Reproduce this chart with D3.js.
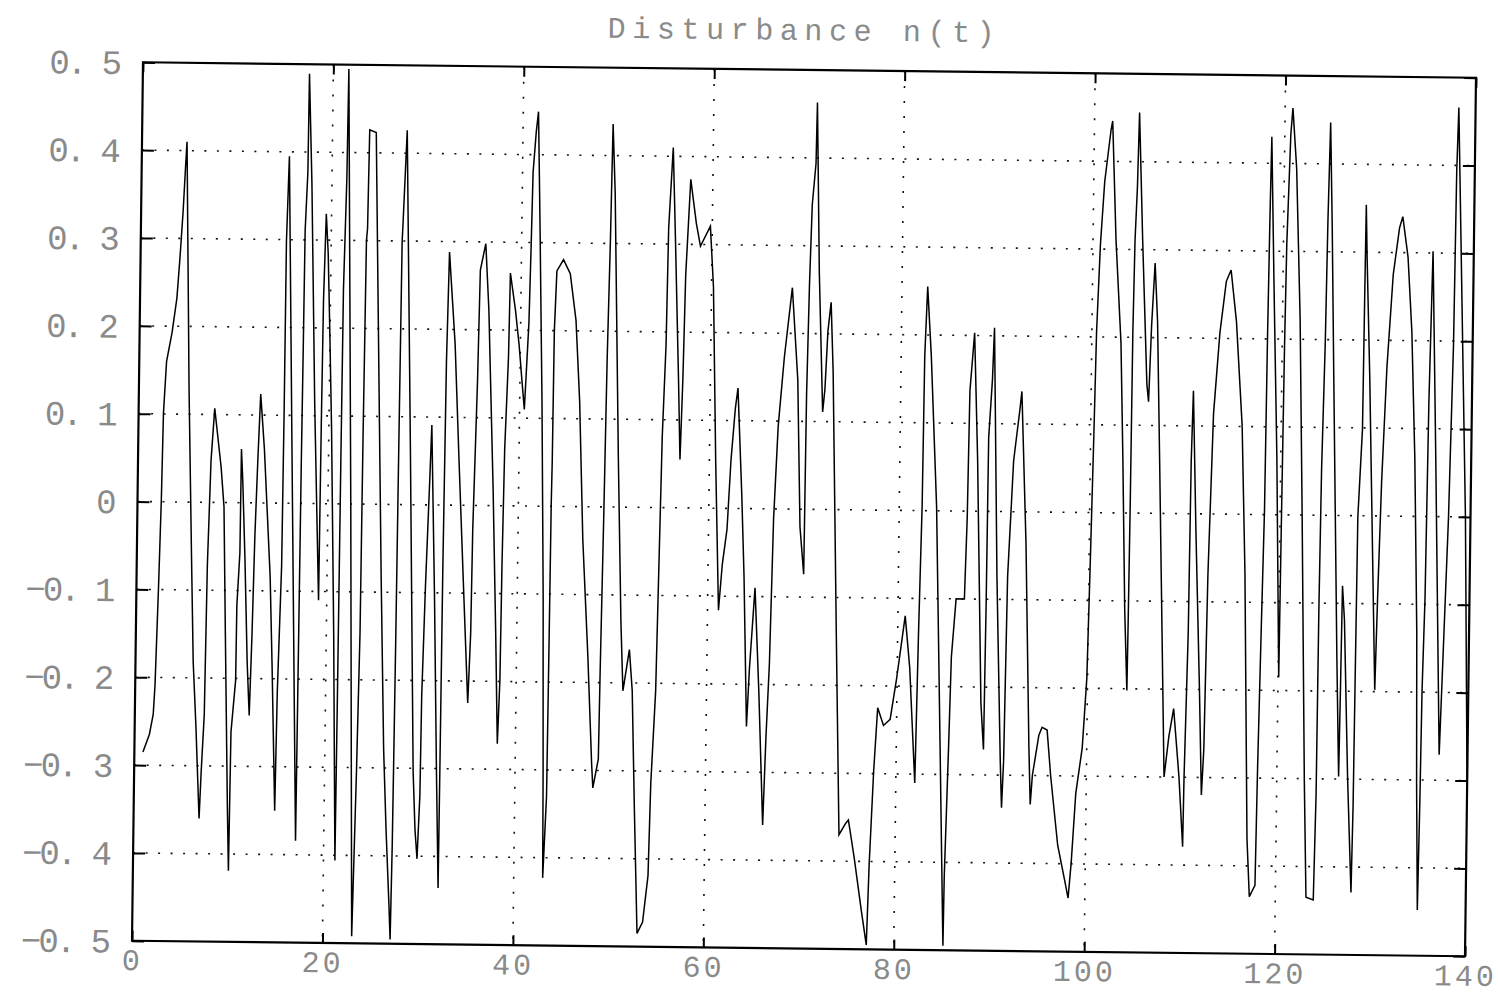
<!DOCTYPE html>
<html>
<head>
<meta charset="utf-8">
<script src="https://cdn.jsdelivr.net/npm/d3@7"></script>
<style>
  html, body { margin: 0; padding: 0; background: #fff; }
  svg { display: block; }
  .lbl text { font-family: "Liberation Mono", "DejaVu Sans Mono", monospace; fill: #8a8a8a; }
</style>
</head>
<body>
<svg id="chart" width="1498" height="994"></svg>
<script>
// Sample times (s) of the disturbance record
const time = [
  0.9,1.55,1.93,2.08,2.32,2.5,2.61,2.87,3.41,3.87,4.14,4.41,4.6,4.73,5.27,5.75,6.06,6.43,6.88,7.04,
  7.29,7.42,7.67,7.99,8.73,9.09,9.4,9.84,10.03,10.12,10.54,10.57,10.82,10.85,11.04,11.36,11.73,12.01,12.2,12.37,
  12.58,12.8,13.26,14.03,14.36,14.81,14.93,15.22,15.28,15.3,15.5,16.18,17.04,17.1,17.15,17.2,17.25,17.46,17.5,17.9,
  18.48,19.14,19.2,19.27,19.45,19.7,19.96,20.28,20.78,21.2,21.25,21.3,21.35,21.56,21.63,22.4,23.06,23.35,23.54,23.6,
  23.7,23.8,23.9,24.59,25.05,25.68,26.17,26.53,26.93,27.1,27.2,27.25,27.3,27.37,27.45,27.5,27.84,28.6,29.3,29.57,
  29.82,30.04,30.1,30.35,30.67,30.81,31.32,31.75,32.07,32.1,32.15,32.26,32.44,33.15,33.71,34.38,34.94,35.16,35.24,35.55,
  35.7,36.24,36.65,37.33,37.79,38.1,38.29,38.36,38.49,38.77,38.86,39.45,39.87,40.21,40.5,40.87,41.0,41.11,41.39,41.6,
  41.92,42.35,42.72,42.95,43.04,43.34,43.4,43.45,43.5,43.55,43.74,44.42,45.15,45.81,46.3,46.81,47.49,48.04,48.19,48.73,
  48.8,48.98,49.13,49.32,49.45,49.76,50.44,50.92,51.22,51.85,52.2,52.57,53.02,53.59,54.1,54.27,54.66,54.84,55.02,55.3,
  55.42,55.8,56.15,56.65,56.91,57.11,57.27,57.68,58.32,58.78,59.8,60.2,60.66,61.15,61.49,61.94,62.27,62.66,62.91,63.45,
  63.79,64.24,64.48,64.96,65.5,66.07,66.3,66.57,66.82,67.18,67.74,68.49,69.18,69.6,70.05,70.12,70.28,70.47,70.81,70.88,
  71.3,71.83,72.04,72.28,72.58,72.88,73.55,74.1,74.78,75.07,75.73,76.53,77.11,77.31,77.66,78.0,78.63,79.32,79.94,80.55,
  80.77,81.31,81.99,82.19,82.4,82.48,82.7,83.17,83.92,84.64,85.16,85.21,85.49,85.67,86.09,86.96,87.15,87.27,87.69,88.17,
  88.83,89.16,89.25,89.3,89.62,89.77,90.35,90.94,91.13,91.29,91.47,91.95,92.55,92.73,93.36,93.93,94.14,94.33,94.96,95.29,
  95.82,96.25,97.08,97.86,98.24,98.52,98.91,99.53,99.92,100.13,100.34,100.49,100.78,101.15,101.75,101.91,102.41,103.07,103.42,103.81,
  104.14,104.19,104.25,104.3,104.41,104.59,104.72,105.21,105.84,106.04,106.26,106.55,106.88,107.28,107.6,108.16,108.61,109.08,109.73,110.2,
  110.26,110.51,110.6,110.74,111.18,111.77,112.1,112.3,112.5,112.88,113.44,114.05,114.54,115.17,115.9,116.39,116.95,117.27,117.85,117.97,
  118.17,118.36,118.45,118.55,118.64,119.06,119.59,120.07,120.15,120.25,120.35,120.63,120.82,121.29,121.85,122.32,122.9,123.22,123.99,124.15,
  124.2,124.3,124.52,124.64,124.8,125.1,125.46,126.16,126.49,126.57,126.65,126.9,127.43,127.94,128.05,128.1,128.17,128.54,128.6,128.65,
  128.8,129.24,129.62,130.17,130.35,130.62,131.03,131.57,132.17,132.5,133.1,133.6,134.08,134.51,134.69,134.93,135.05,135.14,135.33,135.48,
  135.72,136.28,137.02,137.33,137.69,137.99,138.1,138.24,139.47,140
];

// Disturbance n(t) at each sample time
const disturbance = [
  -0.285,-0.265,-0.242,-0.209,-0.097,0.002,0.101,0.16,0.193,0.232,0.278,0.331,0.38,0.41,0.127,-0.064,-0.182,-0.255,-0.36,-0.307,
  -0.242,-0.071,0.048,0.107,0.041,-0.005,-0.149,-0.347,-0.419,-0.261,-0.202,-0.117,-0.057,0.061,0.022,-0.064,-0.182,-0.242,-0.149,-0.038,
  0.048,0.124,0.061,-0.084,-0.189,-0.35,-0.215,-0.071,0.107,0.298,0.395,0.048,-0.384,-0.149,0.048,0.166,0.311,0.377,0.489,0.364,
  0.114,-0.11,0.094,0.232,0.33,0.285,0.2,0.087,-0.15,-0.406,-0.215,0.048,0.245,0.37,0.495,0.0,-0.492,-0.304,-0.146,0.077,
  0.3,0.314,0.426,0.423,0.209,-0.08,-0.278,-0.37,-0.455,-0.495,-0.39,-0.278,-0.153,0.078,0.3,0.314,0.426,0.058,-0.304,-0.37,
  -0.403,-0.33,-0.218,-0.093,0.032,0.091,-0.107,-0.304,-0.436,-0.317,-0.074,0.163,0.288,0.183,0.051,-0.1,-0.225,-0.146,-0.028,0.143,
  0.268,0.298,0.222,0.018,-0.146,-0.271,-0.199,-0.067,0.064,0.17,0.265,0.222,0.183,0.143,0.11,0.209,0.295,0.38,0.426,0.449,
  0.314,0.117,-0.1,-0.304,-0.423,-0.33,-0.166,0.005,0.051,0.2,0.268,0.281,0.265,0.212,0.12,-0.037,-0.169,-0.294,-0.32,-0.287,
  -0.195,-0.011,0.166,0.305,0.436,0.357,0.055,-0.13,-0.209,-0.162,-0.209,-0.34,-0.485,-0.472,-0.419,-0.314,-0.209,-0.064,0.081,0.186,
  0.318,0.41,0.305,0.147,0.055,0.147,0.265,0.374,0.324,0.298,0.321,0.252,0.055,-0.116,-0.064,-0.024,0.055,0.114,0.137,0.015,
  -0.077,-0.248,-0.182,-0.09,-0.209,-0.36,-0.261,-0.176,-0.011,0.094,0.173,0.252,0.147,-0.02,-0.074,0.13,0.255,0.347,0.394,0.463,
  0.269,0.111,0.137,0.203,0.236,0.157,-0.139,-0.37,-0.357,-0.353,-0.396,-0.455,-0.495,-0.403,-0.297,-0.225,-0.245,-0.238,-0.192,-0.139,
  -0.12,-0.179,-0.31,-0.139,0.005,0.176,0.255,0.176,0.005,-0.284,-0.495,-0.416,-0.271,-0.166,-0.1,-0.1,-0.008,0.137,0.203,0.058,
  -0.218,-0.271,-0.106,0.084,0.15,0.209,-0.074,-0.284,-0.337,-0.284,-0.074,0.058,0.117,0.137,-0.037,-0.268,-0.333,-0.3,-0.254,-0.245,
  -0.248,-0.3,-0.379,-0.419,-0.439,-0.399,-0.32,-0.268,-0.189,-0.057,0.088,0.206,0.305,0.377,0.436,0.446,0.311,0.193,0.061,-0.11,
  -0.202,-0.123,0.009,0.206,0.311,0.371,0.456,0.311,0.147,0.127,0.213,0.285,0.219,0.061,-0.07,-0.3,-0.254,-0.222,-0.3,-0.379,
  -0.3,-0.136,0.061,0.14,-0.018,-0.202,-0.32,-0.268,-0.07,0.114,0.206,0.265,0.278,0.219,0.101,-0.067,-0.369,-0.435,-0.422,-0.29,
  -0.132,0.006,0.203,0.341,0.43,0.262,0.065,-0.185,-0.001,0.196,0.308,0.433,0.463,0.394,0.223,-0.001,-0.304,-0.435,-0.438,-0.317,
  -0.106,0.052,0.196,0.335,0.447,0.328,0.157,-0.165,-0.297,-0.198,-0.08,-0.119,-0.297,-0.429,-0.33,-0.185,-0.001,0.098,0.249,0.354,
  0.295,0.157,0.012,-0.198,-0.093,0.039,0.17,0.275,0.328,0.341,0.295,0.21,0.065,-0.132,-0.304,-0.448,-0.33,-0.198,-0.093,0.131,
  0.302,0.065,-0.271,-0.146,-0.001,0.196,0.394,0.466,-0.001,-0.31
];

const xTicks = [0, 20, 40, 60, 80, 100, 120, 140];
const xTickLabels = ["0", "20", "40", "60", "80", "100", "120", "140"];
const yTicks = [0.5, 0.4, 0.3, 0.2, 0.1, 0, -0.1, -0.2, -0.3, -0.4, -0.5];
const yTickLabels = ["0. 5", "0. 4", "0. 3", "0. 2", "0. 1", "0", "\u22120. 1", "\u22120. 2", "\u22120. 3", "\u22120. 4", "\u22120. 5"];
const chartTitle = "Disturbance n(t)";

// Plot frame size; the whole axes group sits slightly tilted on the page
const W = 1333, H = 878.5;
const svg = d3.select("#chart");
const g = svg.append("g")
  .attr("transform", "matrix(1,0.01163,-0.01252,1,143,62.25)");

const x = d3.scaleLinear().domain([0, 140]).range([0, W]);
const y = d3.scaleLinear().domain([-0.5, 0.5]).range([H, 0]);

// Dotted grid
g.append("g").selectAll("line")
  .data(xTicks.filter(d => d > 0 && d < 140))
  .join("line")
  .attr("x1", d => x(d)).attr("x2", d => x(d))
  .attr("y1", 0).attr("y2", H)
  .attr("stroke", "#111").attr("stroke-width", 1.6)
  .attr("stroke-dasharray", "2,13");

g.append("g").selectAll("line")
  .data(yTicks.filter(d => d > -0.5 && d < 0.5))
  .join("line")
  .attr("x1", 0).attr("x2", W)
  .attr("y1", d => y(d)).attr("y2", d => y(d))
  .attr("stroke", "#111").attr("stroke-width", 1.6)
  .attr("stroke-dasharray", "2,10.5");

// Axes with inward ticks on all four sides
const leftAxis = d3.axisLeft(y).tickValues(yTicks)
  .tickFormat((d, i) => yTickLabels[i]).tickSize(-12).tickPadding(24);
const bottomAxis = d3.axisBottom(x).tickValues(xTicks)
  .tickFormat((d, i) => xTickLabels[i]).tickSize(-10).tickPadding(8);
const rightAxis = d3.axisRight(y).tickValues(yTicks).tickFormat("").tickSize(-12);
const topAxis = d3.axisTop(x).tickValues(xTicks).tickFormat("").tickSize(-10);

function styleAxis(sel) {
  sel.select(".domain").remove();
  sel.selectAll(".tick line").attr("stroke", "#000").attr("stroke-width", 2);
}

g.append("g").attr("class", "lbl").call(leftAxis).call(styleAxis)
  .selectAll("text").attr("font-size", 34).attr("letter-spacing", -3).attr("dy", "0.34em");
g.append("g").attr("class", "lbl").attr("transform", `translate(0,${H})`).call(bottomAxis).call(styleAxis)
  .selectAll("text").attr("font-size", 30).attr("letter-spacing", 3);

g.append("g").attr("transform", `translate(${W},0)`).call(rightAxis).call(styleAxis);
g.append("g").call(topAxis).call(styleAxis);

// Frame
g.append("rect")
  .attr("x", 0).attr("y", 0).attr("width", W).attr("height", H)
  .attr("fill", "none").attr("stroke", "#000").attr("stroke-width", 2.2);

// Disturbance trace
const series = time.map((t, i) => [t, disturbance[i]]);
g.append("path")
  .datum(series)
  .attr("fill", "none")
  .attr("stroke", "#000")
  .attr("stroke-width", 1.5)
  .attr("stroke-linejoin", "miter")
  .attr("d", d3.line().x(d => x(d[0])).y(d => y(d[1])));

// Title
g.append("g").attr("class", "lbl")
  .append("text")
  .attr("x", 661).attr("y", -30)
  .attr("text-anchor", "middle")
  .attr("font-size", 30)
  .attr("letter-spacing", 6.6)
  .text(chartTitle);
</script>
</body>
</html>
